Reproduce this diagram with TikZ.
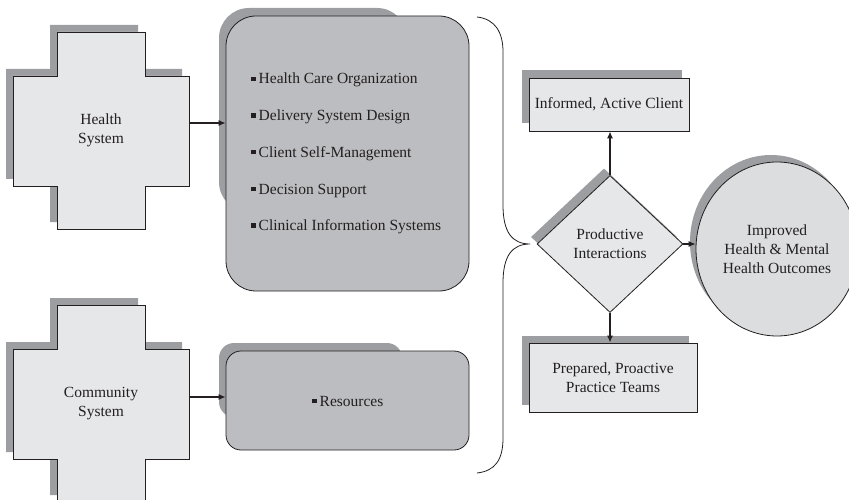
\documentclass[tikz,border=0pt]{standalone}
\usepackage{fontspec}
\setmainfont{Liberation Serif}
\usetikzlibrary{shapes.geometric,arrows.meta,calc}
\definecolor{lite}{HTML}{E6E7E8}
\definecolor{mid}{HTML}{BCBDC0}
\definecolor{shad}{HTML}{9D9EA1}
\definecolor{circ}{HTML}{DCDDDF}
\definecolor{ink}{HTML}{231F20}
\begin{document}
\begin{tikzpicture}[x=1pt,y=-1pt,
  font=\fontsize{15.5}{19}\selectfont, text=ink,
  border/.style={draw=ink,line width=0.8pt},
  arr/.style={draw=ink,line width=1.3pt,-{Latex[length=7pt,width=6pt]}},
  lbl/.style={align=center,inner sep=0pt},
  item/.style={anchor=base west,inner sep=0pt},
  crossp/.pic={
    \fill[shad,shift={(-7,-7)}] (-44,-98.5) -- (44,-98.5) -- (44,-54.5) -- (88,-54.5) -- (88,55.5) -- (44,55.5) -- (44,98.5) -- (-44,98.5) -- (-44,55.5) -- (-88,55.5) -- (-88,-54.5) -- (-44,-54.5) -- cycle;
    \draw[border,fill=lite] (-44,-98.5) -- (44,-98.5) -- (44,-54.5) -- (88,-54.5) -- (88,55.5) -- (44,55.5) -- (44,98.5) -- (-44,98.5) -- (-44,55.5) -- (-88,55.5) -- (-88,-54.5) -- (-44,-54.5) -- cycle;
  }]
\useasboundingbox (0,0) rectangle (849,500);
\clip (0,0) rectangle (849,500);

% crosses
\pic at (101,130.5) {crossp};
\pic at (101,403.5) {crossp};
\node[lbl,minimum width=176pt,minimum height=110pt] (health) at (101,130.5) {Health\\System};
\node[lbl,minimum width=176pt,minimum height=110pt] (comm) at (101,403.5) {Community\\System};

% big box
\fill[shad,rounded corners=30pt] (219,8) rectangle (407,212);
\node[border,fill=mid,rounded corners=30pt,minimum width=243pt,minimum height=275pt,inner sep=0pt] (hbox) at (347.5,153.5) {};
\node[item] (i1) at (251,84) {\raisebox{2.8pt}{\rule{4.5pt}{4.5pt}}\hspace{3pt}Health Care Organization};
\node[item] (i2) at (251,120.7) {\raisebox{2.8pt}{\rule{4.5pt}{4.5pt}}\hspace{3pt}Delivery System Design};
\node[item] (i3) at (251,157.3) {\raisebox{2.8pt}{\rule{4.5pt}{4.5pt}}\hspace{3pt}Client Self-Management};
\node[item] (i4) at (251,194) {\raisebox{2.8pt}{\rule{4.5pt}{4.5pt}}\hspace{3pt}Decision Support};
\node[item] (i5) at (251,230.7) {\raisebox{2.8pt}{\rule{4.5pt}{4.5pt}}\hspace{3pt}Clinical Information Systems};

% resources box
\fill[shad,rounded corners=15pt] (219,343) rectangle (402,417);
\node[border,fill=mid,rounded corners=15pt,minimum width=243pt,minimum height=99pt,inner sep=0pt] (rbox) at (347.5,400.5) {};
\node[item] (r1) at (312,406) {\raisebox{2.8pt}{\rule{4.5pt}{4.5pt}}\hspace{3pt}Resources};

% arrows from crosses
\coordinate (ya) at (0,123);
\coordinate (yb) at (0,397);
\draw[arr] (health.east |- ya) -- (hbox.west |- ya);
\draw[arr] (comm.east |- yb) -- (rbox.west |- yb);

% brace
\draw[ink,line width=0.8pt] (477,17) .. controls (495,19) and (503,32) .. (503,52) -- (503,205)
  .. controls (503,232) and (512,244) .. (530,244)
  .. controls (512,244) and (503,256) .. (503,283) -- (503,438)
  .. controls (503,460) and (495,471) .. (477,473);

% diamond
\node[diamond,fill=shad,minimum width=146pt,minimum height=137pt,inner sep=0pt] (pis) at (604,237) {};
\node[diamond,border,fill=lite,minimum width=146pt,minimum height=137pt,inner sep=0pt,align=center] (pi) at (610,244) {Productive\\Interactions};

% informed box
\fill[shad] (522,70) rectangle (682,123);
\node[border,fill=lite,minimum width=160pt,minimum height=53pt,inner sep=0pt] (inf) at (609,104.5) {Informed, Active Client};

% prepared box
\fill[shad] (522,336) rectangle (689,405);
\node[border,fill=lite,minimum width=168pt,minimum height=69pt,inner sep=0pt,align=center] (prep) at (613,377.5) {Prepared, Proactive\\Practice Teams};

% outcome ellipse
\node[ellipse,fill=shad,minimum width=162pt,minimum height=174pt,inner sep=0pt] (outs) at (771,242) {};
\node[ellipse,border,fill=circ,minimum width=162pt,minimum height=174pt,inner sep=0pt,align=center] (out) at (777,249) {Improved\\Health \& Mental\\Health Outcomes};

% arrows from diamond
\draw[arr] (pi.north) -- (pi.north |- inf.south);
\draw[arr] (pi.south) -- (pi.south |- prep.north);
\draw[arr] (pi.east) -- (out.west |- pi.east);
\end{tikzpicture}
\end{document}
